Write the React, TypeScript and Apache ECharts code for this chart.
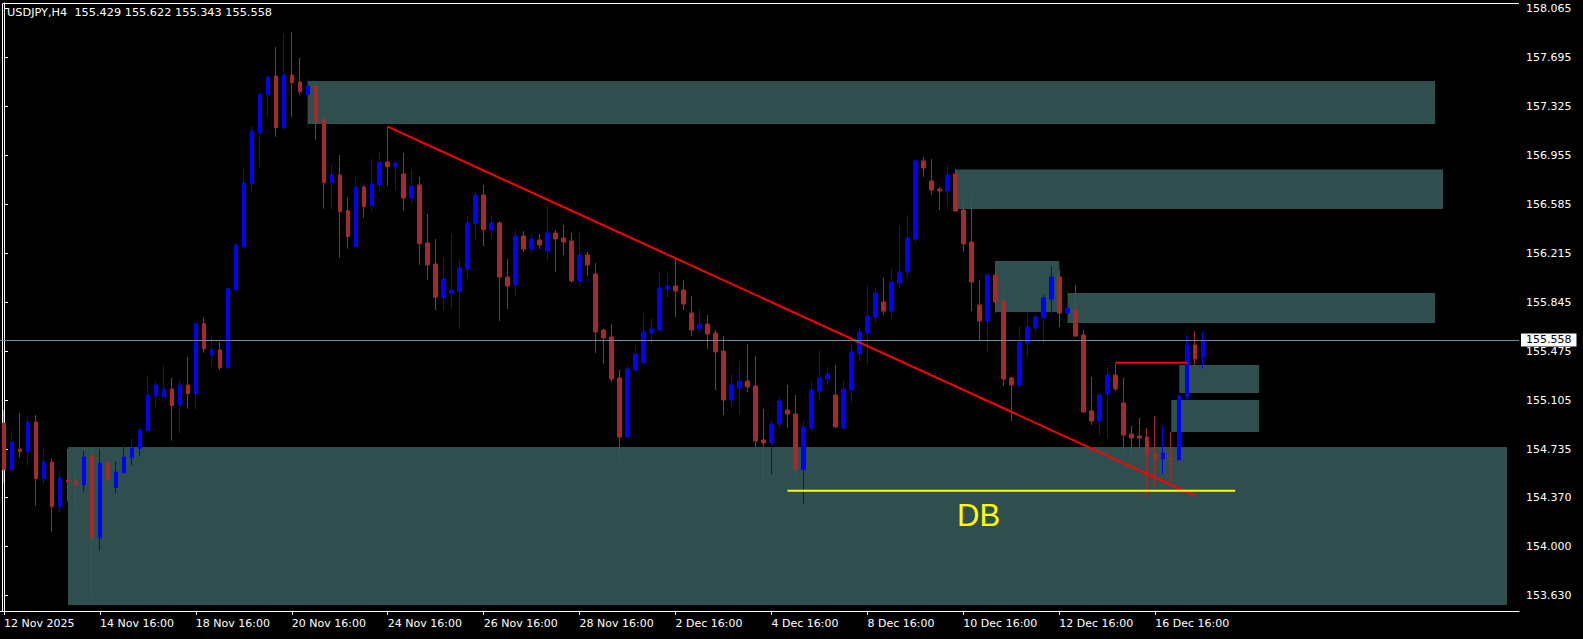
import React, { useEffect, useRef } from "react";
import * as echarts from "echarts";

const symbolTitle = "USDJPY,H4";
const lastOHLC = [155.429, 155.622, 155.343, 155.558];
const currentPrice = 155.558;

const opens = [
  154.933, 154.581, 154.737, 154.717, 154.94, 154.513, 154.638, 154.301, 154.503, 154.495,
  154.467, 154.684, 154.067, 154.631, 154.445, 154.558, 154.671, 154.739, 154.875, 155.139,
  155.129, 155.19, 155.069, 155.22, 155.154, 155.683, 155.446, 155.484, 155.351, 155.939,
  156.262, 156.74, 157.122, 157.409, 157.552, 157.162, 157.56, 157.507, 157.411, 157.477,
  157.223, 156.747, 156.805, 156.536, 156.264, 156.714, 156.574, 156.732, 156.903, 156.865,
  156.813, 156.631, 156.73, 156.292, 156.133, 155.879, 155.914, 155.929, 156.095, 156.438,
  156.654, 156.392, 156.443, 156.035, 155.975, 156.345, 156.246, 156.314, 156.231, 156.367,
  156.329, 156.307, 156.005, 156.201, 156.058, 155.635, 155.582, 155.273, 154.827, 155.333,
  155.386, 155.612, 155.635, 155.945, 155.967, 155.937, 155.763, 155.643, 155.68, 155.612,
  155.476, 155.107, 155.197, 155.25, 155.212, 154.805, 154.784, 154.925, 155.031, 155.001,
  154.581, 154.895, 155.175, 155.265, 155.144, 154.895, 155.182, 155.456, 155.612, 155.733,
  155.846, 155.778, 155.99, 156.073, 156.322, 156.911, 156.76, 156.699, 156.684, 156.813,
  156.541, 156.299, 155.824, 155.703, 156.05, 155.854, 155.273, 155.22, 155.537, 155.65,
  155.726, 155.869, 156.035, 155.763, 155.786, 155.597, 155.024, 154.948, 155.152, 155.295,
  155.084, 154.85, 154.835, 154.827, 154.699, 154.661, 154.669, 154.654, 155.129, 155.522,
  155.429,
];

const highs = [
  155.031, 154.857, 155.008, 154.993, 154.993, 154.752, 154.661, 154.578, 154.737, 154.566,
  154.722, 154.752, 154.737, 154.646, 154.646, 154.774, 154.82, 154.903, 155.295, 155.25,
  155.371, 155.273, 155.258, 155.431, 155.69, 155.728, 155.582, 155.544, 155.955, 156.284,
  156.858, 157.175, 157.424, 157.56, 157.771, 157.869, 157.885, 157.688, 157.53, 157.48,
  157.245, 156.888, 156.956, 156.634, 156.79, 156.73, 156.926, 156.979, 157.17, 156.911,
  156.971, 156.843, 156.79, 156.511, 156.322, 156.179, 156.36, 156.171, 156.496, 156.677,
  156.73, 156.496, 156.458, 156.171, 156.397, 156.382, 156.36, 156.36, 156.571, 156.39,
  156.428, 156.367, 156.382, 156.224, 156.141, 155.643, 155.68, 155.333, 155.371, 155.514,
  155.763, 155.726, 156.073, 156.065, 156.171, 156.012, 155.892, 155.794, 155.748, 155.635,
  155.59, 155.303, 155.401, 155.529, 155.439, 155.039, 154.956, 155.129, 155.22, 155.144,
  154.956, 155.25, 155.484, 155.356, 155.371, 155.258, 155.529, 155.65, 155.975, 155.952,
  156.028, 156.103, 156.42, 156.503, 156.918, 156.941, 156.926, 156.715, 156.881, 156.85,
  156.616, 156.662, 156.012, 156.065, 156.156, 155.937, 155.28, 155.665, 155.763, 155.756,
  155.899, 156.118, 156.088, 155.929, 155.975, 155.635, 155.28, 155.16, 155.356, 155.386,
  155.273, 154.91, 154.971, 154.895, 154.986, 154.91, 154.865, 155.144, 155.59, 155.627,
  155.622,
];

const lows = [
  154.482, 154.566, 154.671, 154.603, 154.309, 154.467, 154.113, 154.256, 154.339, 154.296,
  154.415, 153.599, 153.969, 154.483, 154.4, 154.558, 154.611, 154.679, 154.852, 155.056,
  155.129, 154.8, 154.852, 155.041, 155.034, 155.464, 155.358, 155.333, 155.333, 155.917,
  156.249, 156.672, 156.865, 157.243, 157.094, 157.14, 157.245, 157.411, 157.17, 157.072,
  156.551, 156.543, 156.181, 156.249, 156.264, 156.483, 156.528, 156.687, 156.724, 156.692,
  156.536, 156.586, 156.126, 156.012, 155.786, 155.786, 155.793, 155.637, 156.028, 156.307,
  156.269, 156.329, 155.703, 155.793, 155.892, 156.224, 156.216, 156.246, 156.156, 156.073,
  156.201, 155.99, 155.967, 156.043, 155.461, 155.378, 155.243, 154.646, 154.82, 155.326,
  155.386, 155.529, 155.62, 155.877, 155.733, 155.786, 155.59, 155.612, 155.492, 155.182,
  154.993, 155.054, 155.001, 155.167, 154.752, 154.488, 154.543, 154.888, 154.895, 154.528,
  154.324, 154.873, 155.099, 155.22, 154.895, 154.88, 155.084, 155.393, 155.371, 155.688,
  155.748, 155.726, 155.945, 156.028, 156.292, 156.79, 156.654, 156.541, 156.564, 156.533,
  156.224, 155.778, 155.552, 155.469, 155.763, 155.212, 154.948, 155.197, 155.431, 155.612,
  155.522, 155.756, 155.658, 155.695, 155.582, 155.01, 154.918, 154.835, 154.82, 155.174,
  154.714, 154.669, 154.752, 154.374, 154.442, 154.548, 154.495, 154.654, 155.107, 155.371,
  155.343,
];

const closes = [
  154.581, 154.79, 154.717, 154.94, 154.513, 154.638, 154.301, 154.518, 154.49, 154.467,
  154.676, 154.067, 154.631, 154.505, 154.563, 154.676, 154.744, 154.88, 155.144, 155.22,
  155.19, 155.064, 155.22, 155.154, 155.683, 155.492, 155.484, 155.351, 155.947, 156.277,
  156.745, 157.137, 157.417, 157.545, 157.162, 157.56, 157.502, 157.434, 157.477, 157.208,
  156.747, 156.805, 156.528, 156.34, 156.714, 156.566, 156.737, 156.903, 156.868, 156.896,
  156.631, 156.722, 156.287, 156.126, 155.884, 156.02, 155.937, 156.103, 156.443, 156.654,
  156.392, 156.443, 156.035, 155.967, 156.345, 156.246, 156.322, 156.277, 156.367, 156.322,
  156.299, 156.005, 156.201, 156.126, 155.62, 155.575, 155.265, 154.827, 155.341, 155.454,
  155.62, 155.643, 155.952, 155.967, 155.929, 155.831, 155.635, 155.68, 155.605, 155.469,
  155.107, 155.22, 155.25, 155.205, 154.797, 154.782, 154.925, 155.099, 155.001, 154.581,
  154.903, 155.182, 155.273, 155.303, 154.903, 155.19, 155.469, 155.62, 155.741, 155.914,
  155.778, 155.997, 156.073, 156.33, 156.911, 156.858, 156.692, 156.684, 156.805, 156.533,
  156.284, 155.997, 155.703, 156.05, 155.846, 155.265, 155.22, 155.544, 155.658, 155.733,
  155.877, 156.035, 155.763, 155.801, 155.59, 155.016, 154.948, 155.144, 155.295, 155.19,
  154.842, 154.82, 154.82, 154.699, 154.661, 154.706, 154.659, 155.137, 155.522, 155.416,
  155.558,
];

// total bar slots on the time axis (bars + empty future space)
const slotCount = 190;
const xTickIndex = [0, 12, 24, 36, 48, 60, 72, 84, 96, 108, 120, 132, 144];
const xTickLabels = [
  "12 Nov 2025", "14 Nov 16:00", "18 Nov 16:00", "20 Nov 16:00", "24 Nov 16:00",
  "26 Nov 16:00", "28 Nov 16:00", "2 Dec 16:00", "4 Dec 16:00", "8 Dec 16:00",
  "10 Dec 16:00", "12 Dec 16:00", "16 Dec 16:00",
];
const yTickValues = [
  158.065, 157.695, 157.325, 156.955, 156.585, 156.215, 155.845,
  155.475, 155.105, 154.735, 154.37, 154.0, 153.63,
];
const yMin = 153.5137;
const yMax = 158.1035;

// zones: [startBar, endBar, topPrice, bottomPrice]
const zones = [
  [38, 179, 157.515, 157.19],
  [119, 180, 156.846, 156.548],
  [124, 132, 156.156, 155.771],
  [133, 179, 155.914, 155.688],
  [147, 157, 155.371, 155.16],
  [146, 157, 155.107, 154.865],
  [8, 188, 154.752, 153.559],
];
const trendLine = [
  [48, 157.17],
  [149, 154.382],
];
const supportLine = [
  [98, 154.422],
  [154, 154.422],
];
const breakLine = [
  [139, 155.388],
  [148, 155.388],
];
const dbLabel = [[121.9, 154.231]];

const FONT = "DejaVu Sans";

export default function App() {
  const ref = useRef<HTMLDivElement>(null);

  useEffect(() => {
    if (!ref.current) return;
    const chart = echarts.init(ref.current, null, { renderer: "svg" });
    const categories = Array.from({ length: slotCount }, (_, i) => String(i));
    const labelMap: Record<number, string> = {};
    xTickIndex.forEach((idx, k) => (labelMap[idx] = xTickLabels[k]));
    const tickSet = new Set(xTickIndex);
    const candleData = opens.map((o, i) => [o, closes[i], lows[i], highs[i]]);
    const header = `${symbolTitle}  ${lastOHLC.map((v) => v.toFixed(3)).join(" ")}`;

    const option: any = {
      animation: false,
      backgroundColor: "#000000",
      grid: { left: 0, top: 3, width: 1519, height: 608, containLabel: false },
      xAxis: [
        {
          type: "category",
          data: categories,
          boundaryGap: true,
          axisLine: { show: true, lineStyle: { color: "#ffffff", width: 1 } },
          axisTick: {
            show: true,
            alignWithLabel: true,
            interval: (i: number) => tickSet.has(i),
            length: 4,
            lineStyle: { color: "#ffffff" },
          },
          axisLabel: {
            show: true,
            interval: (i: number) => tickSet.has(i),
            formatter: (_v: string, i: number) => labelMap[i] ?? "",
            color: "#ffffff",
            fontFamily: FONT,
            fontSize: 11,
            align: "left",
            margin: 7,
          },
          splitLine: { show: false },
        },
        { type: "value", min: -0.5, max: slotCount - 0.5, show: false },
      ],
      yAxis: {
        type: "value",
        position: "right",
        min: yMin,
        max: yMax,
        axisLine: { show: true, lineStyle: { color: "#ffffff", width: 1 } },
        axisTick: {
          show: true,
          length: 4,
          customValues: yTickValues,
          lineStyle: { color: "#ffffff" },
        },
        axisLabel: {
          customValues: yTickValues,
          formatter: (v: number) => v.toFixed(3),
          color: "#ffffff",
          fontFamily: FONT,
          fontSize: 11,
          margin: 7,
        },
        splitLine: { show: false },
      },
      graphic: [
        {
          type: "line",
          silent: true,
          shape: { x1: 2.5, y1: 3.5, x2: 1519, y2: 3.5 },
          style: { stroke: "#ffffff", lineWidth: 1 },
        },
        {
          type: "line",
          silent: true,
          shape: { x1: 2.5, y1: 3.5, x2: 2.5, y2: 611 },
          style: { stroke: "#ffffff", lineWidth: 1 },
        },
        {
          type: "text",
          silent: true,
          x: 7,
          y: 7,
          z: 100,
          style: {
            text: header,
            fill: "#ffffff",
            fontFamily: FONT,
            fontSize: 11.3,
            verticalAlign: "top",
          },
        },
      ],
      series: [
        {
          type: "custom",
          xAxisIndex: 1,
          yAxisIndex: 0,
          z: 1,
          silent: true,
          data: zones,
          encode: { x: [0, 1], y: [2, 3] },
          renderItem: (_params: any, api: any) => {
            const p0 = api.coord([api.value(0), api.value(2)]);
            const p1 = api.coord([api.value(1), api.value(3)]);
            return {
              type: "rect",
              shape: { x: p0[0], y: p0[1], width: p1[0] - p0[0], height: p1[1] - p0[1] },
              style: { fill: "#2f4f4f" },
            };
          },
        },
        {
          type: "candlestick",
          xAxisIndex: 0,
          yAxisIndex: 0,
          z: 2,
          silent: true,
          barWidth: 4,
          data: candleData,
          itemStyle: {
            color: "#0000ff",
            color0: "#a52a2a",
            borderColor: "#0000ff",
            borderColor0: "#a52a2a",
            borderWidth: 1,
          },
          markLine: {
            silent: true,
            symbol: ["none", "none"],
            lineStyle: { color: "#778899", width: 1, type: "solid" },
            label: {
              show: true,
              position: "end",
              distance: 2,
              formatter: currentPrice.toFixed(3),
              backgroundColor: "#ffffff",
              color: "#000000",
              fontFamily: FONT,
              fontSize: 11,
              padding: [1, 5, 1, 5],
            },
            data: [{ yAxis: currentPrice }],
          },
        },
        {
          type: "line",
          xAxisIndex: 1,
          yAxisIndex: 0,
          z: 3,
          silent: true,
          symbol: "none",
          data: trendLine,
          lineStyle: { color: "#ff0000", width: 2 },
        },
        {
          type: "line",
          xAxisIndex: 1,
          yAxisIndex: 0,
          z: 3,
          silent: true,
          symbol: "none",
          data: supportLine,
          lineStyle: { color: "#ffff00", width: 2 },
        },
        {
          type: "line",
          xAxisIndex: 1,
          yAxisIndex: 0,
          z: 3,
          silent: true,
          symbol: "none",
          data: breakLine,
          lineStyle: { color: "#ff0000", width: 2 },
        },
        {
          type: "scatter",
          xAxisIndex: 1,
          yAxisIndex: 0,
          z: 4,
          silent: true,
          symbolSize: 1,
          itemStyle: { color: "rgba(0,0,0,0)" },
          data: dbLabel,
          label: {
            show: true,
            position: "inside",
            formatter: "DB",
            color: "#ffff00",
            opacity: 1,
            textBorderWidth: 0,
            fontFamily: "Liberation Sans",
            fontSize: 31,
          },
        },
      ],
    };
    chart.setOption(option);
    return () => chart.dispose();
  }, []);

  return (
    <div
      ref={ref}
      style={{
        position: "fixed",
        left: 0,
        top: 0,
        width: 1583,
        height: 639,
        background: "#000000",
      }}
    />
  );
}
